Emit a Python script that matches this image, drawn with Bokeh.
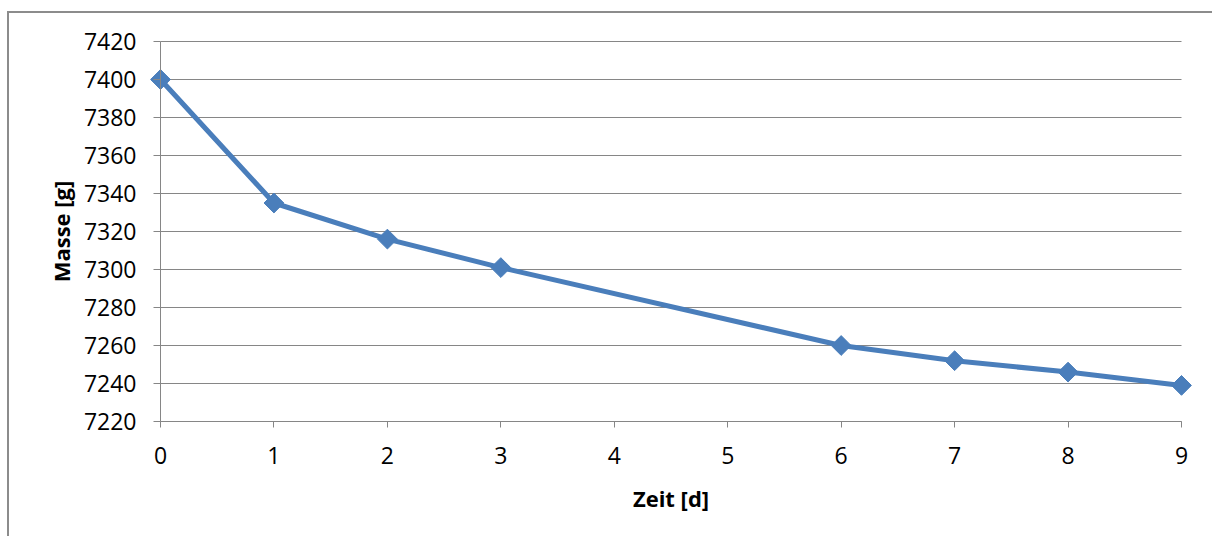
import numpy as np
from bokeh.plotting import figure
from bokeh.models import Range1d, FixedTicker, LinearAxis, Label
from bokeh.embed import file_html
from bokeh.resources import INLINE

# data
days = [0, 1, 2, 3, 6, 7, 8, 9]
mass = [7400, 7335, 7316, 7301, 7260, 7252, 7246, 7239]
x_ticks = list(range(0, 10))
y_ticks = list(range(7220, 7421, 20))
x_label = "Zeit [d]"
y_label = "Masse [g]"

X0, X1 = x_ticks[0], x_ticks[-1]
Y0, Y1 = y_ticks[0], y_ticks[-1]

FONT = "Open Sans"
GRID = "#868686"
BLUE = "#4a7ebb"

# layout (pixels inside the canvas)
W, H = 1205, 525
axis_x_px = 151          # canvas x where x=0 lies
plot_w_px = 1021         # from x=0 to x=9
axis_top_px = 28         # canvas y of the top gridline
plot_h_px = 380          # from top gridline to x axis
frame_left = 31
frame_right_pad = 11
ppu_x = plot_w_px / (X1 - X0)
ppu_y = plot_h_px / (Y1 - Y0)
x_start = X0 - (axis_x_px - frame_left) / ppu_x
x_end = X1 + frame_right_pad / ppu_x
min_right = W - (axis_x_px + plot_w_px + frame_right_pad)
y_end = Y1 + axis_top_px / ppu_y
y_start = Y0 - (H - axis_top_px - plot_h_px) / ppu_y

p = figure(width=W, height=H, output_backend="svg", toolbar_location=None,
           x_range=Range1d(x_start, x_end), y_range=Range1d(y_start, y_end),
           x_axis_location=None, y_axis_location=None,
           min_border_left=frame_left, min_border_right=min_right,
           min_border_top=0, min_border_bottom=0)
p.outline_line_color = None
p.xgrid.visible = False
p.ygrid.visible = False
p.background_fill_color = "white"
p.border_fill_color = "white"
p.margin = (11, 0, 0, 7)
p.styles = {"border-top": "2px solid #8c8c8c", "border-left": "2px solid #8c8c8c"}

# gridlines (only between x=0 and x=9 like the original)
p.segment(x0=[X0] * len(y_ticks), y0=y_ticks, x1=[X1] * len(y_ticks), y1=y_ticks,
          line_color=GRID, line_width=1)

# series
p.line(days, mass, line_color=BLUE, line_width=5, line_join="round")
p.scatter(days, mass, marker="square", size=14, angle=np.pi / 4,
          fill_color=BLUE, line_color=BLUE, line_width=1)

def style_axis(ax, tick_out, standoff):
    ax.axis_line_color = GRID
    ax.major_tick_line_color = GRID
    ax.major_tick_out = tick_out
    ax.major_tick_in = 0
    ax.minor_tick_line_color = None
    ax.major_label_text_font = FONT
    ax.major_label_text_font_size = "23px"
    ax.major_label_text_color = "black"
    ax.major_label_standoff = standoff

xa = LinearAxis(fixed_location=Y0, ticker=FixedTicker(ticks=x_ticks), bounds=(X0, X1))
style_axis(xa, 6, 19)
p.add_layout(xa, "below")

ya = LinearAxis(fixed_location=X0, ticker=FixedTicker(ticks=y_ticks), bounds=(Y0, Y1))
style_axis(ya, 7, 17)
p.add_layout(ya, "left")

# axis titles
p.add_layout(Label(x=(X0 + X1) / 2, y=Y0 - 76 / ppu_y, text=x_label,
                   text_font=FONT, text_font_style="bold", text_font_size="22px",
                   text_color="black", text_align="center", text_baseline="middle"))
p.add_layout(Label(x=X0 - 100 / ppu_x, y=(Y0 + Y1) / 2, text=y_label, angle=np.pi / 2,
                   text_font=FONT, text_font_style="bold", text_font_size="22px",
                   text_color="black", text_align="center", text_baseline="middle"))

open("out.html", "w").write(file_html(p, INLINE))
